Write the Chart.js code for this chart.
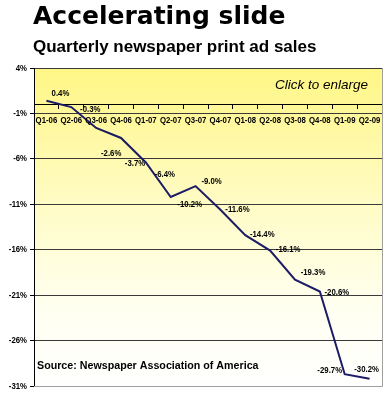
<!DOCTYPE html>
<html>
<head>
<meta charset="utf-8">
<script src="https://cdn.jsdelivr.net/npm/chart.js@4.4.0/dist/chart.umd.min.js"></script>
<style>
    body { margin: 0; background: #fff; }
    #wrap { position: relative; width: 388px; height: 400px; }
    #title {
        position: absolute; left: 33px; top: 3px;
        font: bold 25px/25px 'DejaVu Sans', sans-serif; color: #000;
    }
    #subtitle {
        position: absolute; left: 33px; top: 38px;
        font: bold 17px/17px 'Liberation Sans', Arial, sans-serif; color: #000;
    }
</style>
</head>
<body>
<div id="wrap">
    <canvas id="adChart" width="388" height="400"></canvas>
    <div id="title">Accelerating slide</div>
    <div id="subtitle">Quarterly newspaper print ad sales</div>
</div>
<script>
const quarters = ['Q1-06', 'Q2-06', 'Q3-06', 'Q4-06', 'Q1-07', 'Q2-07', 'Q3-07',
    'Q4-07', 'Q1-08', 'Q2-08', 'Q3-08', 'Q4-08', 'Q1-09', 'Q2-09'];
const adSalesChange = [0.4, -0.3, -2.6, -3.7, -6.4, -10.2, -9.0,
    -11.6, -14.4, -16.1, -19.3, -20.6, -29.7, -30.2];
const yTicks = [4, -1, -6, -11, -16, -21, -26, -31];

// where each value label sits relative to its point (px)
const labelOffsets = [[14, -7], [19, 2], [15, 25], [14, 25], [19, 12], [19, 7], [16, -5],
    [17, 0], [17, -1], [18, -1], [18, -7], [17, 1], [-15, -4], [-3, -9]];

// Arial Narrow look-alike: squeeze bold Liberation Sans horizontally
const NARROW = 0.82;
const narrowFont = "bold 9.5px 'Liberation Sans', Arial, sans-serif";

function drawNarrow(ctx, text, x, y, align) {
    ctx.save();
    ctx.translate(x, y);
    ctx.scale(NARROW, 1);
    ctx.textAlign = align;
    ctx.fillText(text, 0, 0);
    ctx.restore();
}

const backgroundPlugin = {
    id: 'plotBackground',
    beforeDraw(chart) {
        const { ctx, chartArea: a } = chart;
        const grad = ctx.createLinearGradient(0, a.top, 0, a.bottom);
        grad.addColorStop(0, '#fff685');
        grad.addColorStop(0.45, '#fffcc8');
        grad.addColorStop(0.75, '#fffff0');
        grad.addColorStop(1, '#ffffff');
        ctx.save();
        ctx.fillStyle = grad;
        ctx.fillRect(a.left, a.top, a.right - a.left, a.bottom - a.top);
        ctx.restore();
    },
    afterDraw(chart) {
        const { ctx, chartArea: a } = chart;
        ctx.save();
        ctx.strokeStyle = '#a0a0a0';
        ctx.lineWidth = 1;
        ctx.beginPath();
        ctx.moveTo(a.right + 0.5, a.top);
        ctx.lineTo(a.right + 0.5, a.bottom + 0.5);
        ctx.lineTo(a.left, a.bottom + 0.5);
        ctx.stroke();

        ctx.fillStyle = '#000';
        ctx.font = "italic 13.5px 'Liberation Sans', Arial, sans-serif";
        ctx.textAlign = 'right';
        ctx.textBaseline = 'alphabetic';
        ctx.fillText('Click to enlarge', a.right - 14, a.top + 21);

        ctx.font = "bold 10.7px 'Liberation Sans', Arial, sans-serif";
        ctx.textAlign = 'left';
        ctx.fillText('Source: Newspaper Association of America', a.left + 3, a.bottom - 17);
        ctx.restore();
    }
};

const axisLabelPlugin = {
    id: 'axisLabels',
    afterDraw(chart) {
        const { ctx, chartArea: a } = chart;
        const xs = chart.scales.x;
        const ys = chart.scales.y;
        ctx.save();
        ctx.font = narrowFont;
        ctx.fillStyle = '#000';
        ctx.textBaseline = 'middle';
        ys.ticks.forEach(t => {
            drawNarrow(ctx, t.value + '%', a.left - 7, ys.getPixelForValue(t.value), 'right');
        });
        const zeroY = ys.getPixelForValue(0);
        quarters.forEach((q, i) => {
            drawNarrow(ctx, q, xs.getPixelForValue(i), zeroY + 16, 'center');
        });
        ctx.restore();
    }
};

const valueLabelPlugin = {
    id: 'valueLabels',
    afterDatasetsDraw(chart) {
        const { ctx } = chart;
        const meta = chart.getDatasetMeta(0);
        ctx.save();
        ctx.font = narrowFont;
        ctx.fillStyle = '#000';
        ctx.textBaseline = 'middle';
        meta.data.forEach((pt, i) => {
            const off = labelOffsets[i] || [17, 0];
            drawNarrow(ctx, adSalesChange[i].toFixed(1) + '%', pt.x + off[0], pt.y + off[1], 'center');
        });
        ctx.restore();
    }
};

new Chart(document.getElementById('adChart'), {
    type: 'line',
    data: {
        labels: quarters,
        datasets: [{
            data: adSalesChange,
            borderColor: '#1c1c66',
            borderWidth: 2,
            pointRadius: 0,
            tension: 0,
            fill: false
        }]
    },
    options: {
        responsive: false,
        animation: false,
        layout: { padding: { top: 68, right: 6, bottom: 14, left: 0 } },
        plugins: {
            legend: { display: false },
            tooltip: { enabled: false }
        },
        scales: {
            x: {
                type: 'category',
                position: { y: 0 },
                offset: true,
                grid: { drawOnChartArea: false, drawTicks: true, tickLength: 4, color: '#000', offset: true },
                border: { color: '#000', width: 1 },
                ticks: { display: false, autoSkip: false }
            },
            y: {
                min: yTicks[yTicks.length - 1],
                max: yTicks[0],
                afterFit(scale) { scale.width = 34; },
                afterBuildTicks(scale) { scale.ticks = yTicks.map(v => ({ value: v })); },
                grid: { color: '#3a3a3a', lineWidth: 1, tickLength: 4, tickColor: '#000' },
                border: { color: '#000', width: 1 },
                ticks: { display: false }
            }
        }
    },
    plugins: [backgroundPlugin, valueLabelPlugin, axisLabelPlugin]
});
</script>
</body>
</html>
